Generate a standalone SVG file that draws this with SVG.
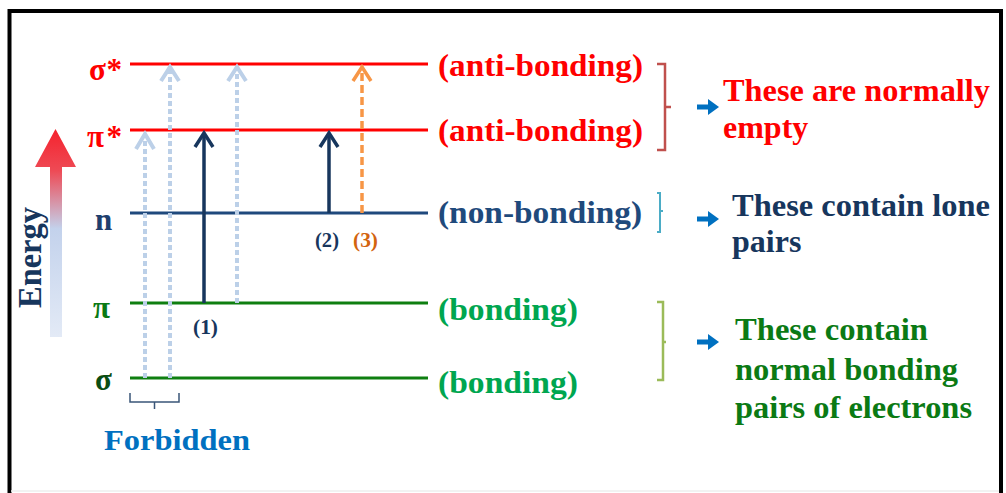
<svg xmlns="http://www.w3.org/2000/svg" width="1006" height="493" viewBox="0 0 1006 493">
<defs>
<linearGradient id="eg" x1="0" y1="0" x2="0" y2="1">
<stop offset="0" stop-color="#f5222d"/>
<stop offset="0.2" stop-color="#ee4a55"/>
<stop offset="0.48" stop-color="#c3d2ec"/>
<stop offset="1" stop-color="#e3eaf6"/>
</linearGradient>
<style>
text{font-family:"Liberation Serif","Times New Roman",serif;font-weight:bold}
.lvl{stroke-width:3;fill:none}
.red{fill:#ff0000}
.navy{fill:#1f3f6e}
.dk{fill:#17365d}
.grn{fill:#00a650}
.dgrn{fill:#0b7a14}
.lb{stroke:#bcd0e8;stroke-width:4;fill:none}
.lbd{stroke-dasharray:5 3}
.nv{stroke:#17365d;stroke-width:3.5;fill:none}
.or{stroke:#f79646;stroke-width:3.5;fill:none}
.ba{fill:#0070c0}
</style>
</defs>
<rect width="1006" height="493" fill="#ffffff"/>
<g id="frame">
<path d="M9.5,493 V11 H1001 V493" fill="none" stroke="#000" stroke-width="4"/>
<line x1="11" y1="491" x2="999" y2="491" stroke="#eeeeee" stroke-width="1.5"/>
</g>
<g id="energy">
<path d="M50,337 V167 H35 L55.5,129 L76,167 H62 V337 Z" fill="url(#eg)"/>
<text transform="translate(41,308) rotate(-90)" font-size="33" class="dk" textLength="101" lengthAdjust="spacingAndGlyphs">Energy</text>
</g>
<g id="levels">
<g id="sigma-star"><line x1="130" y1="64" x2="428" y2="64" stroke="#ff0000" class="lvl"/><text x="89" y="80" font-size="31" class="red" textLength="33" lengthAdjust="spacing">σ*</text><text x="438" y="76" font-size="32" class="red" textLength="205" lengthAdjust="spacingAndGlyphs">(anti-bonding)</text></g>
<g id="pi-star"><line x1="130" y1="130" x2="428" y2="130" stroke="#ff0000" class="lvl"/><text x="87" y="147" font-size="31" class="red" textLength="35" lengthAdjust="spacing">π*</text><text x="438" y="141" font-size="32" class="red" textLength="205" lengthAdjust="spacingAndGlyphs">(anti-bonding)</text></g>
<g id="n"><line x1="130" y1="213" x2="428" y2="213" stroke="#1f497d" class="lvl"/><text x="95" y="230" font-size="31" class="navy">n</text><text x="438" y="223" font-size="32" fill="#1f4a7c" textLength="204" lengthAdjust="spacingAndGlyphs">(non-bonding)</text></g>
<g id="pi"><line x1="130" y1="303" x2="428" y2="303" stroke="#0e7f10" class="lvl"/><text x="93" y="318" font-size="31" class="dgrn">π</text><text x="438" y="320" font-size="32" class="grn" textLength="140" lengthAdjust="spacingAndGlyphs">(bonding)</text></g>
<g id="sigma"><line x1="130" y1="378" x2="428" y2="378" stroke="#0e7f10" class="lvl"/><text x="95" y="390" font-size="31" fill="#0a4d12">σ</text><text x="438" y="393" font-size="32" class="grn" textLength="140" lengthAdjust="spacingAndGlyphs">(bonding)</text></g>
</g>
<g id="connectors">
<line x1="145" y1="378" x2="145" y2="134" class="lb lbd"/><polyline points="136,149 145,134 154,149" class="lb"/>
<line x1="170" y1="378" x2="170" y2="67" class="lb lbd"/><polyline points="161,81 170,67 179,81" class="lb"/>
<line x1="237" y1="303" x2="237" y2="67" class="lb lbd"/><polyline points="228,81 237,67 246,81" class="lb"/>
<line x1="204" y1="303" x2="204" y2="133" class="nv"/><polyline points="195,147 204,133 213,147" class="nv"/>
<line x1="329" y1="213" x2="329" y2="133" class="nv"/><polyline points="320,147 329,133 338,147" class="nv"/>
<line x1="362" y1="213" x2="362" y2="67" class="or" stroke-dasharray="8 4"/><polyline points="353,81 362,67 371,81" class="or"/>
</g>
<g id="transition-labels">
<text x="193" y="334" font-size="20" class="dk" textLength="25" lengthAdjust="spacingAndGlyphs">(1)</text>
<text x="315" y="247" font-size="20" class="dk" textLength="24" lengthAdjust="spacingAndGlyphs">(2)</text>
<text x="353" y="247" font-size="20" fill="#d3640f" textLength="25" lengthAdjust="spacingAndGlyphs">(3)</text>
</g>
<g id="forbidden">
<path d="M130,393 V402 H179 V393 M154.5,402 V409" fill="none" stroke="#3a5578" stroke-width="1.5"/>
<text x="104" y="450" font-size="29" fill="#0070c0" textLength="146" lengthAdjust="spacingAndGlyphs">Forbidden</text>
</g>
<g id="braces">
<path d="M657,64 H665 V150 H657 M665,107 H671" fill="none" stroke="#c0504d" stroke-width="2.5"/>
<path d="M657,193 H660 V232 H657 M660,211 H663" fill="none" stroke="#4bacc6" stroke-width="2"/>
<path d="M657,302 H663 V380 H657 M663,342 H666" fill="none" stroke="#9bbb59" stroke-width="2.5"/>
</g>
<g id="blue-arrows">
<path d="M697,104.5 H708 V99 L719,107 L708,115 V109.5 H697 Z" class="ba"/>
<path d="M697,216.5 H708 V211 L719,219 L708,227 V221.5 H697 Z" class="ba"/>
<path d="M697,339.5 H708 V334 L719,342 L708,350 V344.5 H697 Z" class="ba"/>
</g>
<g id="note-empty">
<text x="723" y="101" font-size="32" class="red" textLength="267" lengthAdjust="spacingAndGlyphs">These are normally</text>
<text x="723" y="138" font-size="32" class="red">empty</text>
</g>
<g id="note-lone">
<text x="732" y="216" font-size="32" fill="#17365d" textLength="258" lengthAdjust="spacingAndGlyphs">These contain lone</text>
<text x="732" y="252" font-size="32" fill="#17365d">pairs</text>
</g>
<g id="note-bonding">
<text x="735" y="340" font-size="32" class="dgrn" textLength="193" lengthAdjust="spacingAndGlyphs">These contain</text>
<text x="735" y="380" font-size="32" class="dgrn" textLength="223" lengthAdjust="spacingAndGlyphs">normal bonding</text>
<text x="735" y="418" font-size="32" class="dgrn" textLength="237" lengthAdjust="spacingAndGlyphs">pairs of electrons</text>
</g>
</svg>
